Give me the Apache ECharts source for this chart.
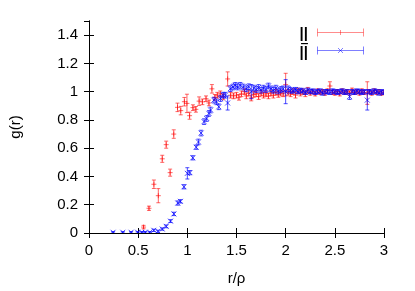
<!DOCTYPE html>
<html>
<head>
<meta charset="utf-8">
<script src="https://cdn.jsdelivr.net/npm/echarts@6/dist/echarts.min.js"></script>
<style>html,body{margin:0;padding:0;background:#fff}#c{width:415px;height:291px}</style>
</head>
<body>
<div id="c"></div>
<script>
// Tick values
const xTicks = [0, 0.5, 1, 1.5, 2, 2.5, 3];
const yTicks = [0, 0.2, 0.4, 0.6, 0.8, 1, 1.2, 1.4];
const legendLabels = ['||', '||'];

// Red series (parallel): x, g(r), error
const redX = [0.555,0.61,0.66,0.705,0.745,0.785,0.825,0.862,0.90,0.933,0.97,0.996,1.023,1.057,1.087,1.12,1.153,1.19,1.22,1.25,1.28,1.305,1.335,1.365,1.41,1.44,1.47,1.50,1.525,1.55,1.58,1.6,1.625,1.65,1.675,1.70,1.725,1.75,1.775,1.80,1.825,1.85,1.875,1.90,1.925,1.95,1.975,2.0,2.025,2.05,2.075,2.1,2.125,2.15,2.175,2.2,2.225,2.25,2.275,2.3,2.325,2.35,2.375,2.4,2.425,2.45,2.475,2.5,2.525,2.55,2.575,2.6,2.625,2.65,2.675,2.7,2.725,2.75,2.775,2.8,2.83,2.85,2.875,2.9,2.925,2.95,2.975,3.0];
const redY = [0.042,0.175,0.345,0.264,0.525,0.625,0.427,0.70,0.889,0.866,0.929,0.917,0.83,0.887,0.875,0.933,0.928,0.95,0.92,1.02,0.96,0.975,0.985,0.963,1.09,0.975,0.97,0.975,0.96,0.985,1.0,0.97,0.99,0.955,0.98,0.985,0.965,0.99,0.975,0.985,0.97,0.99,0.975,0.995,0.98,0.99,0.985,1.05,0.995,0.985,1.0,0.975,1.005,0.99,1.0,0.985,1.01,0.99,1.0,0.985,1.005,0.995,1.0,0.99,1.005,1.04,0.995,0.99,1.0,0.985,1.005,0.995,1.0,0.99,1.01,0.995,1.0,0.99,1.005,0.995,0.99,1.0,0.99,1.005,0.995,1.0,0.99,0.995];
const redErr = [0.012,0.015,0.03,0.05,0.025,0.025,0.025,0.03,0.03,0.03,0.03,0.065,0.025,0.02,0.02,0.03,0.02,0.02,0.02,0.03,0.02,0.02,0.02,0.02,0.05,0.02,0.02,0.02,0.02,0.02,0.02,0.02,0.02,0.02,0.02,0.02,0.02,0.02,0.02,0.02,0.02,0.02,0.02,0.02,0.02,0.02,0.02,0.08,0.02,0.02,0.02,0.02,0.02,0.02,0.02,0.02,0.02,0.015,0.015,0.015,0.015,0.015,0.015,0.015,0.015,0.03,0.015,0.015,0.015,0.015,0.015,0.015,0.015,0.015,0.015,0.015,0.015,0.015,0.015,0.015,0.08,0.015,0.015,0.015,0.015,0.015,0.015,0.015];

// Blue series (perpendicular): x, g(r), error
const blueX = [0.245,0.344,0.428,0.495,0.538,0.572,0.618,0.659,0.702,0.745,0.785,0.829,0.863,0.903,0.93,0.966,1.0,1.026,1.056,1.09,1.113,1.14,1.17,1.197,1.22,1.237,1.27,1.297,1.32,1.337,1.364,1.387,1.41,1.437,1.464,1.488,1.511,1.538,1.57,1.6,1.625,1.65,1.675,1.70,1.725,1.75,1.775,1.80,1.825,1.85,1.875,1.90,1.925,1.95,1.975,2.0,2.025,2.05,2.075,2.1,2.125,2.15,2.175,2.2,2.225,2.25,2.275,2.3,2.325,2.35,2.375,2.4,2.425,2.45,2.475,2.5,2.525,2.55,2.575,2.6,2.625,2.65,2.675,2.7,2.725,2.75,2.775,2.8,2.83,2.85,2.875,2.9,2.925,2.95,2.975,3.0];
const blueY = [0.005,0.005,0.005,0.005,0.005,0.005,0.005,0.019,0.012,0.028,0.047,0.084,0.135,0.212,0.224,0.327,0.422,0.427,0.532,0.607,0.644,0.707,0.788,0.81,0.846,0.87,0.94,0.928,0.893,0.951,0.975,0.975,0.92,1.021,1.033,1.045,1.033,1.045,1.033,1.02,1.035,1.0,1.025,1.015,1.03,1.01,1.025,1.015,1.04,1.02,1.01,1.025,1.005,1.015,1.02,1.0,1.02,1.01,1.005,1.015,1.0,1.01,1.005,0.995,1.01,1.0,1.005,0.995,1.0,1.005,0.99,1.0,1.0,0.995,1.005,1.0,0.995,1.0,1.005,0.995,1.0,0.965,1.0,0.995,1.005,1.0,0.995,1.0,0.94,1.0,0.995,1.005,1.0,0.99,1.0,0.995];
const blueErr = [0.005,0.005,0.005,0.005,0.005,0.005,0.005,0.008,0.008,0.008,0.01,0.01,0.012,0.015,0.012,0.015,0.04,0.015,0.015,0.015,0.02,0.02,0.02,0.02,0.02,0.02,0.02,0.02,0.02,0.02,0.02,0.02,0.05,0.02,0.02,0.02,0.02,0.02,0.02,0.02,0.02,0.05,0.02,0.02,0.02,0.02,0.02,0.02,0.02,0.02,0.02,0.02,0.02,0.02,0.02,0.085,0.02,0.02,0.015,0.015,0.015,0.015,0.015,0.015,0.015,0.015,0.015,0.015,0.015,0.015,0.015,0.015,0.015,0.015,0.015,0.015,0.015,0.015,0.015,0.015,0.015,0.02,0.015,0.015,0.015,0.015,0.015,0.015,0.07,0.015,0.015,0.015,0.015,0.015,0.015,0.015];

const RED = 'rgba(255,0,0,0.6)';
const BLUE = 'rgba(0,0,255,0.7)';
const RED_L = 'rgba(255,0,0,0.45)';
const BLUE_L = 'rgba(0,0,255,0.5)';
const FONT = 'Liberation Sans';

function zip(xs, ys, es) { return xs.map((x, i) => [x, ys[i], es[i]]); }

function ln(x1, y1, x2, y2, color) {
  return { type: 'line', silent: true, shape: { x1: x1, y1: y1, x2: x2, y2: y2 },
           style: { stroke: color, lineWidth: 1, fill: null } };
}

function makeRender(color, marker) {
  return function (params, api) {
    const x = api.value(0), y = api.value(1), e = api.value(2);
    const p = api.coord([x, y]);
    const t = api.coord([x, y + e]);
    const b = api.coord([x, y - e]);
    const cw = 2, m = 2.5;
    const ch = [
      ln(p[0], t[1], p[0], b[1], color),
      ln(p[0] - cw, t[1], p[0] + cw, t[1], color),
      ln(p[0] - cw, b[1], p[0] + cw, b[1], color)
    ];
    if (marker === 'plus') {
      ch.push(ln(p[0] - m, p[1], p[0] + m, p[1], color));
      ch.push(ln(p[0], p[1] - m, p[0], p[1] + m, color));
    } else {
      ch.push(ln(p[0] - m, p[1] - m, p[0] + m, p[1] + m, color));
      ch.push(ln(p[0] - m, p[1] + m, p[0] + m, p[1] - m, color));
    }
    return { type: 'group', children: ch };
  };
}

// legend sample (error bar key) drawn as graphic lines
function keySample(x0, yc, color, marker) {
  const w = 46, h = 4, xm = x0 + w / 2, m = 2.5;
  const ch = [
    ln(x0, yc, x0 + w, yc, color),
    ln(x0, yc - h, x0, yc + h, color),
    ln(x0 + w, yc - h, x0 + w, yc + h, color)
  ];
  if (marker === 'plus') {
    ch.push(ln(xm, yc - m, xm, yc + m, color));
  } else {
    ch.push(ln(xm - m, yc - m, xm + m, yc + m, color));
    ch.push(ln(xm - m, yc + m, xm + m, yc - m, color));
  }
  return { type: 'group', silent: true, children: ch };
}

const chart = echarts.init(document.getElementById('c'));
const axisLine = { show: true, lineStyle: { color: '#000', width: 1 } };
const tickStyle = { show: true, inside: true, length: 5, lineStyle: { color: '#000' } };

const option = {
  animation: false,
  backgroundColor: '#fff',
  textStyle: { fontFamily: FONT },
  grid: { left: 85, right: 31, top: 21, bottom: 55 },
  legend: {
    orient: 'vertical', right: 102, top: 26, padding: 0, itemGap: 4,
    align: 'right', itemWidth: 0, itemHeight: 10, selectedMode: false, icon: 'none',
    textStyle: { fontFamily: FONT, fontSize: 15, fontWeight: 'bold', color: '#000' },
    formatter: function (n) { return n === 'para' ? legendLabels[0] : legendLabels[1]; },
    data: ['para', 'perp']
  },
  graphic: [
    keySample(317.5, 32.5, RED_L, 'plus'),
    keySample(317.5, 50.5, BLUE_L, 'cross'),
    { type: 'text', left: 302, top: 43, silent: true,
      style: { text: '‾', fontFamily: FONT, fontSize: 15, fontWeight: 'bold', fill: '#000' } }
  ],
  xAxis: [
    { type: 'value', min: 0, max: 3, interval: 0.5, name: 'r/ρ', nameLocation: 'middle', nameGap: 38,
      nameTextStyle: { fontFamily: FONT, fontSize: 15, color: '#000' },
      axisLine: axisLine, axisTick: tickStyle, splitLine: { show: false },
      axisLabel: { fontFamily: FONT, fontSize: 15, color: '#000', margin: 10 } },
    { type: 'value', min: 0, max: 3, interval: 0.5, position: 'top',
      axisLine: axisLine, axisTick: tickStyle, splitLine: { show: false }, axisLabel: { show: false } }
  ],
  yAxis: [
    { type: 'value', min: 0, max: 1.5, interval: 0.2, name: 'g(r)', nameLocation: 'middle', nameGap: 66,
      nameTextStyle: { fontFamily: FONT, fontSize: 15, color: '#000' },
      axisLine: axisLine, axisTick: tickStyle, splitLine: { show: false },
      axisLabel: { fontFamily: FONT, fontSize: 15, color: '#000', margin: 11, showMaxLabel: false } },
    { type: 'value', min: 0, max: 1.5, interval: 0.2, position: 'right',
      axisLine: axisLine, axisTick: tickStyle, splitLine: { show: false }, axisLabel: { show: false } }
  ],
  series: [
    { name: 'para', type: 'custom', silent: true, emphasis: { disabled: true },
      renderItem: makeRender(RED, 'plus'), data: zip(redX, redY, redErr),
      itemStyle: { color: RED_L }, encode: { x: 0, y: 1 }, clip: true },
    { name: 'perp', type: 'custom', silent: true, emphasis: { disabled: true },
      renderItem: makeRender(BLUE, 'cross'), data: zip(blueX, blueY, blueErr),
      itemStyle: { color: BLUE_L }, encode: { x: 0, y: 1 }, clip: true }
  ]
};
chart.setOption(option);
</script>
</body>
</html>
